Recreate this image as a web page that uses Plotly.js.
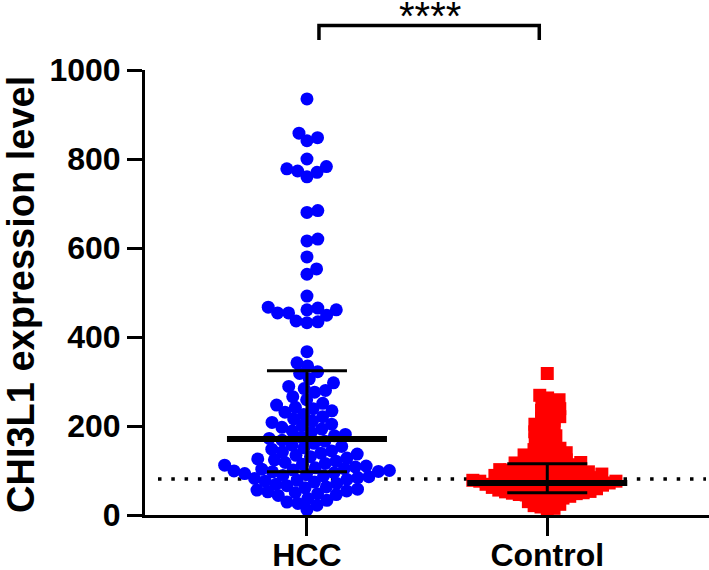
<!DOCTYPE html>
<html><head><meta charset="utf-8">
<script src="https://cdn.plot.ly/plotly-3.0.1.min.js"></script>
<style>html,body{margin:0;padding:0;background:#fff}#chart{width:709px;height:570px}</style>
</head><body><div id="chart"></div>
<script>
// ---------------- data ----------------
const groups = ['HCC', 'Control'];

const hccValues = [
  935, 858, 848, 841, 800, 783, 778, 773, 770, 760, 684, 680, 620, 616, 580, 553, 541, 492,
  467, 465, 461, 461, 454, 454, 449, 436, 434, 432, 367, 342, 335,
  322, 318, 306, 297, 289, 284, 280, 276, 266, 259, 251, 247, 242, 239, 234, 231, 226, 221,
  216, 211, 208, 204, 201, 197, 193, 189, 186, 181, 178, 175, 172,
  168, 166, 161, 157, 154, 151, 148, 144, 142, 139, 137, 134, 131, 128, 126, 124, 121, 118,
  116, 114, 112, 110, 108, 106, 104, 103, 101, 100, 99, 98, 97,
  95, 93, 91, 89, 88, 86, 84, 82, 80, 78, 76, 74, 71, 69, 66, 63, 61, 58, 56, 54, 52, 50,
  48, 46, 44, 37, 33, 29, 26, 22, 12
];

const controlValues = [
  318, 269, 263, 259, 254, 248, 244, 239, 235, 230, 226, 221, 217, 212, 208, 204, 199, 196,
  191, 187, 183, 178, 174, 169, 164, 159, 154, 150,
  147, 145, 142, 140, 137, 135, 133, 130, 128, 126, 124, 122, 120, 118, 117,
  116, 114, 113, 111, 110, 108, 107, 105, 104, 102, 101, 99, 98, 97, 96, 95, 94, 93, 92,
  91, 90, 89, 88, 87, 86, 85, 84,
  83, 82, 81, 80, 80, 79, 78, 77, 76, 76, 75, 74, 73, 73, 72, 71, 70, 70, 69, 68, 67, 67,
  66, 65, 64, 64, 63, 62,
  61, 60, 59, 58, 57, 56, 55, 54, 53, 52, 51, 50, 49, 48, 47, 46, 45, 44, 42, 40,
  38, 35, 33, 30, 27, 24, 21, 18, 15, 11
];

const medians = [171, 72];
const q1s = [97, 50];
const q3s = [324, 115];
const cutoff = [81];
const sigLabel = ['****'];
const yTitle = 'CHI3L1 expression level';
const yTickVals = [0, 200, 400, 600, 800, 1000];
const yTickText = ['0', '200', '400', '600', '800', '1000'];

// ---------------- geometry / style ----------------
const W = 709, H = 570, mL = 145, mR = 0, mT = 70, mB = 55;
const plotW = W - mL - mR, plotH = H - mT - mB;
const xRange = [0.326, 2.673], yRange = [0, 1000];
const pxPerX = plotW / (xRange[1] - xRange[0]);
const pxPerY = plotH / (yRange[1] - yRange[0]);
const FONT = 'Liberation Sans, Arial, Helvetica, sans-serif';
const xToPaper = x => (x - xRange[0]) / (xRange[1] - xRange[0]);
const pxToPaperX = px => (px - mL) / plotW;
const pxToPaperY = py => (mT + plotH - py) / plotH;

function swarm(values, center, minDist) {
  const order = values.map((v, i) => i).sort((a, b) => values[a] - values[b]);
  const placed = [];
  const xs = new Array(values.length);
  const d2 = minDist * minDist;
  for (const i of order) {
    const y = values[i] * pxPerY;
    const near = placed.filter(p => Math.abs(p.y - y) < minDist);
    const cands = [0];
    for (const p of near) {
      const dx = Math.sqrt(d2 - (p.y - y) ** 2);
      cands.push(p.x + dx, p.x - dx);
    }
    cands.sort((a, b) => Math.abs(a) - Math.abs(b));
    let chosen = 0;
    for (const c of cands) {
      if (near.every(p => (p.x - c) ** 2 + (p.y - y) ** 2 >= d2 - 1e-6)) { chosen = c; break; }
    }
    placed.push({ x: chosen, y: y });
    xs[i] = center + chosen / pxPerX;
  }
  return xs;
}

const hccX = swarm(hccValues, 1, 11);
const ctrlX = swarm(controlValues, 2, 7);

// summary lines
const medHalf = 80 / pxPerX, capHalf = 40 / pxPerX;
const medX = [], medY = [], iqrX = [], iqrY = [];
groups.forEach((g, i) => {
  const c = i + 1;
  medX.push(c - medHalf, c + medHalf, null); medY.push(medians[i], medians[i], null);
  iqrX.push(c - capHalf, c + capHalf, null, c - capHalf, c + capHalf, null, c, c, null);
  iqrY.push(q3s[i], q3s[i], null, q1s[i], q1s[i], null, q1s[i], q3s[i], null);
});

const traces = [
  { type: 'scatter', mode: 'markers', x: hccX, y: hccValues, cliponaxis: false, hoverinfo: 'skip',
    marker: { symbol: 'circle', size: 13, color: '#0000FF', line: { width: 0 } } },
  { type: 'scatter', mode: 'markers', x: ctrlX, y: controlValues, cliponaxis: false, hoverinfo: 'skip',
    marker: { symbol: 'square', size: 13, color: '#FF0000', line: { width: 0 } } },
  { type: 'scatter', mode: 'lines', x: iqrX, y: iqrY, cliponaxis: false, hoverinfo: 'skip',
    line: { color: '#000', width: 3 } },
  { type: 'scatter', mode: 'lines', x: medX, y: medY, cliponaxis: false, hoverinfo: 'skip',
    line: { color: '#000', width: 6 } }
];

const bx0 = xToPaper(1 + 12 / pxPerX), bx1 = xToPaper(2 - 8 / pxPerX);
const byTop = pxToPaperY(25.5), byBot = pxToPaperY(40);

const layout = {
  width: W, height: H, showlegend: false,
  margin: { l: mL, r: mR, t: mT, b: mB, pad: 0 },
  paper_bgcolor: '#fff', plot_bgcolor: '#fff',
  font: { family: FONT, color: '#000' },
  xaxis: {
    range: xRange, tickvals: [1, 2], ticktext: groups, showgrid: false, zeroline: false,
    showline: true, linecolor: '#000', linewidth: 3, ticks: 'outside', ticklen: 18, tickwidth: 3,
    tickcolor: '#000', ticklabelstandoff: -8,
    tickfont: { family: FONT, size: 32, color: '#000', weight: 'bold' }, fixedrange: true
  },
  yaxis: {
    range: yRange, tickvals: yTickVals, ticktext: yTickText, showgrid: false, zeroline: false,
    showline: true, linecolor: '#000', linewidth: 3, ticks: 'outside', ticklen: 15, tickwidth: 3,
    tickcolor: '#000', tickfont: { family: FONT, size: 32, color: '#000', weight: 'bold' }, fixedrange: true
  },
  shapes: [
    { type: 'line', xref: 'paper', yref: 'y', x0: pxToPaperX(158), x1: pxToPaperX(706),
      y0: cutoff[0], y1: cutoff[0], layer: 'below', line: { color: '#000', width: 3.5, dash: '3.5px,9.8px' } },
    { type: 'path', xref: 'paper', yref: 'paper',
      path: `M ${bx0} ${byBot} L ${bx0} ${byTop} L ${bx1} ${byTop} L ${bx1} ${byBot}`,
      line: { color: '#000', width: 3.5 } }
  ],
  annotations: [
    { xref: 'paper', yref: 'paper', x: xToPaper(1.5) + 3 / plotW, y: pxToPaperY(16), xanchor: 'center', yanchor: 'middle',
      text: sigLabel[0], showarrow: false, font: { family: FONT, size: 40, color: '#000' } },
    { xref: 'paper', yref: 'paper', x: pxToPaperX(21), y: pxToPaperY(295), xanchor: 'center', yanchor: 'middle',
      textangle: -90, text: yTitle, showarrow: false,
      font: { family: FONT, size: 38, color: '#000', weight: 'bold' } }
  ]
};

Plotly.newPlot('chart', traces, layout, { staticPlot: true, displayModeBar: false });
</script>
</body></html>
